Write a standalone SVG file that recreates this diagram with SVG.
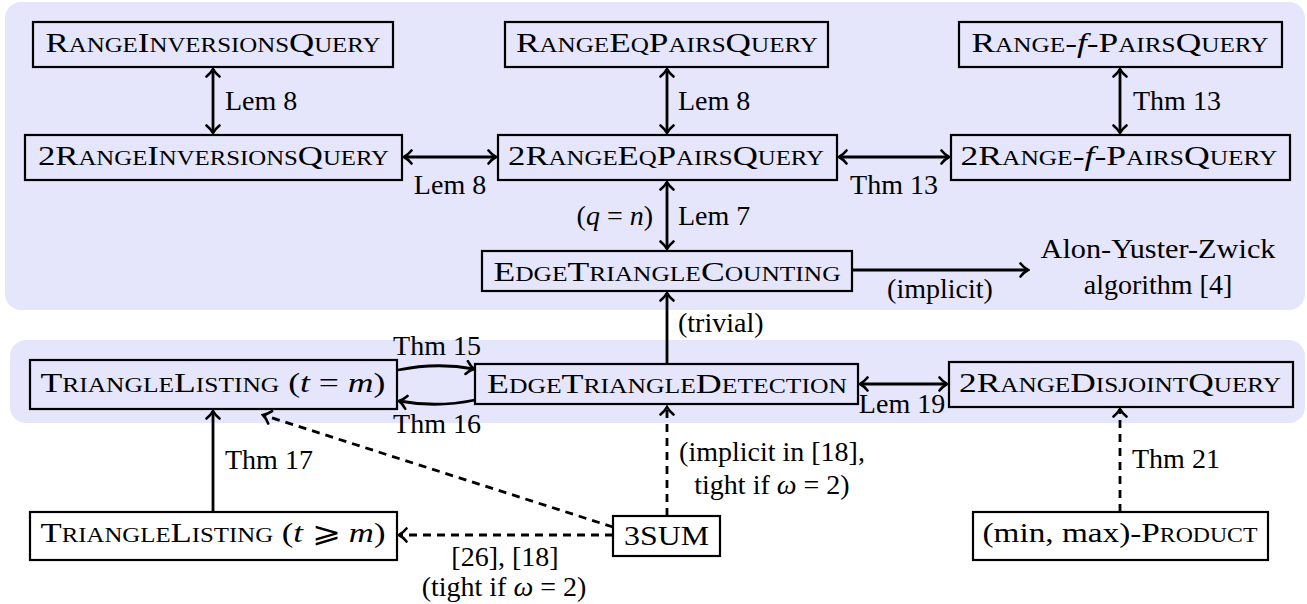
<svg xmlns="http://www.w3.org/2000/svg" width="1307" height="604" viewBox="0 0 1307 604">
<style>
text{font-family:'Liberation Serif','DejaVu Serif',serif;font-size:28px;fill:#000}
.sc{font-variant:small-caps}
.i{font-style:italic}
.box{fill:none;stroke:#000;stroke-width:2.2}
.c{fill:none;stroke:#000;stroke-width:2.8}
.d{stroke-dasharray:8 6}
.m{text-anchor:middle}
.e{text-anchor:end}
</style>
<defs>
<marker id="ah" viewBox="-10 -8 12 16" refX="0" refY="0" markerWidth="12" markerHeight="16" orient="auto-start-reverse" markerUnits="userSpaceOnUse">
<path d="M-7.5,-6.5 C-4.5,-2.8 -1.5,-0.8 0,0 C-1.5,0.8 -4.5,2.8 -7.5,6.5" fill="none" stroke="#000" stroke-width="2.6" stroke-linecap="round" stroke-dasharray="none"/>
</marker>
</defs>
<g id="regions">
<rect x="5" y="2" width="1300" height="308" rx="16" fill="#e5e5fb"/>
<rect x="10" y="340" width="1295" height="83" rx="16" fill="#e5e5fb"/>
</g>
<g id="connectors">
<path class="c" d="M213,69 L213,133" marker-start="url(#ah)" marker-end="url(#ah)"/>
<path class="c" d="M667,69 L667,133" marker-start="url(#ah)" marker-end="url(#ah)"/>
<path class="c" d="M1120,69 L1120,133" marker-start="url(#ah)" marker-end="url(#ah)"/>
<path class="c" d="M404,157 L496,157" marker-start="url(#ah)" marker-end="url(#ah)"/>
<path class="c" d="M839,157 L949,157" marker-start="url(#ah)" marker-end="url(#ah)"/>
<path class="c" d="M667,182 L667,249" marker-start="url(#ah)" marker-end="url(#ah)"/>
<path class="c" d="M853,270 L1028,270" marker-end="url(#ah)"/>
<path class="c" d="M667,364 L667,293" marker-end="url(#ah)"/>
<path class="c" d="M398,370 Q437,362 474,369" marker-end="url(#ah)"/>
<path class="c" d="M475,400 Q437,408 399,401" marker-end="url(#ah)"/>
<path class="c" d="M860,384 L947,384" marker-start="url(#ah)" marker-end="url(#ah)"/>
<path class="c" d="M213,512 L213,411" marker-end="url(#ah)"/>
<path class="c d" d="M613,527 L263,415" marker-end="url(#ah)"/>
<path class="c d" d="M613,535 L399,535" marker-end="url(#ah)"/>
<path class="c d" d="M667,516 L667,407" marker-end="url(#ah)"/>
<path class="c d" d="M1120,512 L1120,409" marker-end="url(#ah)"/>
<text x="225" y="110">Lem 8</text>
<text x="678" y="110">Lem 8</text>
<text x="1133" y="110">Thm 13</text>
<text class="m" x="450" y="194">Lem 8</text>
<text class="m" x="894" y="194">Thm 13</text>
<text class="e" x="653" y="225">(<tspan class="i">q</tspan> = <tspan class="i">n</tspan>)</text>
<text x="678" y="225">Lem 7</text>
<text class="m" x="940" y="298">(implicit)</text>
<text class="m" x="1158" y="258" textLength="235" lengthAdjust="spacingAndGlyphs">Alon-Yuster-Zwick</text>
<text class="m" x="1158" y="294">algorithm [4]</text>
<text x="678" y="332">(trivial)</text>
<text class="m" x="437" y="355">Thm 15</text>
<text class="m" x="437" y="433">Thm 16</text>
<text class="m" x="902" y="413">Lem 19</text>
<text x="225" y="469">Thm 17</text>
<text class="m" x="772" y="461">(implicit in [18],</text>
<text class="m" x="772" y="494">tight if <tspan class="i">ω</tspan> = 2)</text>
<text class="m" x="505" y="566">[26], [18]</text>
<text class="m" x="504" y="596">(tight if <tspan class="i">ω</tspan> = 2)</text>
<text x="1132" y="468">Thm 21</text>
</g>
<g id="n-rangeinversions"><rect class="box" x="33" y="22" width="360" height="45"/><text class="m sc" x="213" y="52" textLength="335" lengthAdjust="spacingAndGlyphs">RangeInversionsQuery</text></g>
<g id="n-2rangeinversions"><rect class="box" x="25" y="135" width="377" height="45"/><text class="m sc" x="213.5" y="165" textLength="351" lengthAdjust="spacingAndGlyphs">2RangeInversionsQuery</text></g>
<g id="n-rangeeqpairs"><rect class="box" x="505" y="22" width="323" height="45"/><text class="m sc" x="667" y="52" textLength="302" lengthAdjust="spacingAndGlyphs">RangeEqPairsQuery</text></g>
<g id="n-2rangeeqpairs"><rect class="box" x="498" y="135" width="339" height="45"/><text class="m sc" x="666" y="165" textLength="316" lengthAdjust="spacingAndGlyphs">2RangeEqPairsQuery</text></g>
<g id="n-rangefpairs"><rect class="box" x="959" y="22" width="323" height="45"/><text class="m" x="1120" y="52" textLength="297" lengthAdjust="spacingAndGlyphs"><tspan class="sc">Range-</tspan><tspan class="i">f</tspan><tspan class="sc">-PairsQuery</tspan></text></g>
<g id="n-2rangefpairs"><rect class="box" x="951" y="135" width="339" height="45"/><text class="m" x="1119" y="165" textLength="317" lengthAdjust="spacingAndGlyphs"><tspan class="sc">2Range-</tspan><tspan class="i">f</tspan><tspan class="sc">-PairsQuery</tspan></text></g>
<g id="n-edgetrianglecounting"><rect class="box" x="482" y="251" width="370" height="40"/><text class="m sc" x="667" y="281" textLength="347" lengthAdjust="spacingAndGlyphs">EdgeTriangleCounting</text></g>
<g id="n-trianglelisting-eq"><rect class="box" x="30" y="360" width="367" height="49"/><text class="m" x="213" y="392" textLength="345" lengthAdjust="spacingAndGlyphs"><tspan class="sc">TriangleListing</tspan> (<tspan class="i">t</tspan> = <tspan class="i">m</tspan>)</text></g>
<g id="n-edgetriangledetection"><rect class="box" x="475" y="364" width="383" height="40"/><text class="m sc" x="667" y="393" textLength="360" lengthAdjust="spacingAndGlyphs">EdgeTriangleDetection</text></g>
<g id="n-2rangedisjoint"><rect class="box" x="949" y="362" width="344" height="45"/><text class="m sc" x="1120" y="392" textLength="322" lengthAdjust="spacingAndGlyphs">2RangeDisjointQuery</text></g>
<g id="n-trianglelisting-geq"><rect class="box" x="30" y="512" width="367" height="48"/><text class="m" x="213" y="542" textLength="345" lengthAdjust="spacingAndGlyphs"><tspan class="sc">TriangleListing</tspan> (<tspan class="i">t</tspan> ⩾ <tspan class="i">m</tspan>)</text></g>
<g id="n-3sum"><rect class="box" x="613" y="516" width="107" height="40"/><text class="m" x="666.5" y="545" textLength="85" lengthAdjust="spacingAndGlyphs">3SUM</text></g>
<g id="n-minmaxproduct"><rect class="box" x="973" y="512" width="295" height="48"/><text class="m" x="1120" y="542" textLength="275" lengthAdjust="spacingAndGlyphs">(min, max)-<tspan class="sc">Product</tspan></text></g>
</svg>
